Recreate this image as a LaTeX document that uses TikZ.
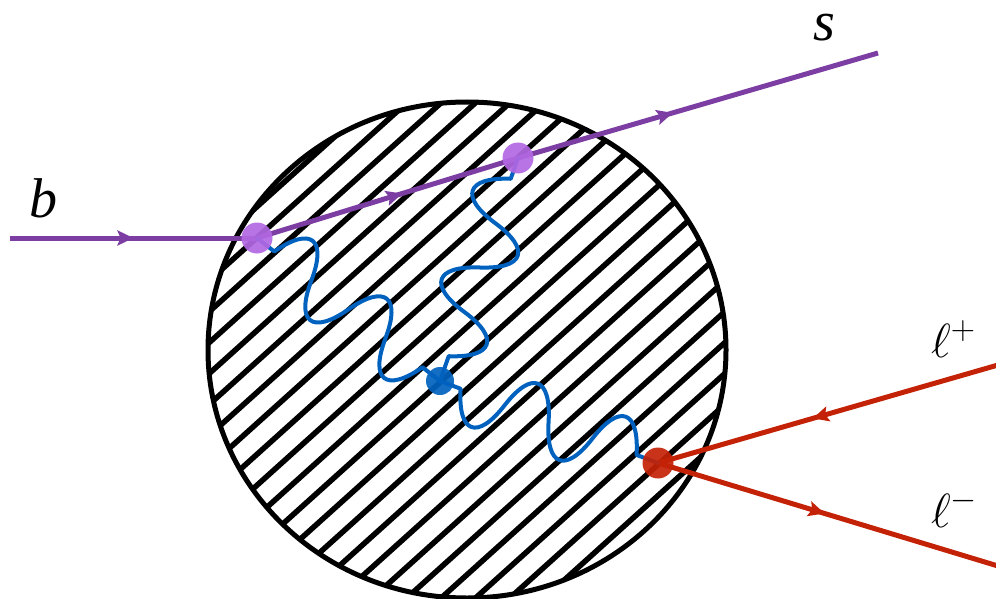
\RequirePackage{fix-cm}
\documentclass[tikz,border=0pt]{standalone}
\usepackage{fontspec}
\setmainfont{Liberation Serif}
\usetikzlibrary{decorations,decorations.markings,arrows.meta}
\definecolor{quark}{RGB}{125,62,163}
\definecolor{vtxq}{RGB}{178,104,226}
\definecolor{phot}{RGB}{0,98,190}
\definecolor{lep}{RGB}{196,34,6}
\pgfdeclaredecoration{wavy}{up}{
  \state{up}[width=\pgfdecorationsegmentlength, next state=down,
             switch if less than=\pgfdecorationsegmentlength to final]{
    \pgfpathcurveto{\pgfpoint{0.28\pgfdecorationsegmentlength}{1.333\pgfdecorationsegmentamplitude}}
                   {\pgfpoint{0.72\pgfdecorationsegmentlength}{1.333\pgfdecorationsegmentamplitude}}
                   {\pgfpoint{\pgfdecorationsegmentlength}{0pt}}
  }
  \state{down}[width=\pgfdecorationsegmentlength, next state=up,
               switch if less than=\pgfdecorationsegmentlength to final]{
    \pgfpathcurveto{\pgfpoint{0.28\pgfdecorationsegmentlength}{-1.333\pgfdecorationsegmentamplitude}}
                   {\pgfpoint{0.72\pgfdecorationsegmentlength}{-1.333\pgfdecorationsegmentamplitude}}
                   {\pgfpoint{\pgfdecorationsegmentlength}{0pt}}
  }
  \state{final}{\pgfpathlineto{\pgfpointdecoratedpathlast}}
}
\tikzset{
  fermion/.style={line width=5pt, postaction={decorate},
    decoration={markings, mark=at position #1 with {\arrow{Stealth[length=16pt,width=15pt,inset=3pt]}}}},
  photon/.style={draw=phot, line width=4pt, line join=round, line cap=round,
    decorate, decoration={wavy, amplitude=#1, segment length=47pt, pre length=22pt}},
  vtx/.style={circle, inner sep=0pt, minimum size=#1},
  hatchline/.style={line width=5.5pt, black},
  lblA/.style={inner sep=0pt, font=\fontsize{56}{60}\selectfont},
  lblB/.style={inner sep=0pt, font=\fontsize{48}{52}\selectfont},
}
\begin{document}
\begin{tikzpicture}[x=1pt, y=-1pt]
\useasboundingbox (0,0) rectangle (996,599);
% endpoints
\coordinate (bin) at (10,238);
\coordinate (send) at (878,53);
\coordinate (lp) at (998,365);
\coordinate (lm) at (998,566);
\coordinate (blob) at (467,350);
% hatched blob (underneath)
\begin{scope}
  \clip (blob) ellipse [x radius=259pt, y radius=248pt];
  \begin{scope}[shift={(blob)}, rotate=42]
    \foreach \i in {-13,...,13} \draw[hatchline] (-330,\i*23+6) -- (330,\i*23+6);
  \end{scope}
\end{scope}
\draw[line width=5pt] (blob) ellipse [x radius=259pt, y radius=248pt];
% vertices
\node[vtx=31pt] (v1) at (257,238) {};
\node[vtx=31pt] (v2) at (518,158) {};
\node[vtx=28pt] (vb) at (440,381) {};
\node[vtx=31pt] (vr) at (658,463) {};
% fermion lines
\draw[quark, fermion=0.5] (bin) -- (v1.center);
\draw[quark, fermion=0.556] (v1.center) -- (v2.center);
\draw[quark, fermion=0.43] (v2.center) -- (send);
\draw[lep, fermion=0.545] (lp) -- (vr.center);
\draw[lep, fermion=0.49] (vr.center) -- (lm);
% photons
\draw[photon=32pt] (v1.center) -- (vb.center);
\draw[photon=-32pt] (v2.center) -- (vb.center);
\draw[photon=-32pt] (vb.center) -- (vr.center);
% vertex dots
\fill[vtxq, fill opacity=0.92] (v1) circle[radius=15.5pt];
\fill[vtxq, fill opacity=0.92] (v2) circle[radius=15.5pt];
\fill[phot, fill opacity=0.92] (vb) circle[radius=14pt];
\fill[lep, fill opacity=0.92] (vr) circle[radius=15.5pt];
% labels
\node[lblA, anchor=base] (lb) at (43,217) {\textit{b}};
\node[lblA, anchor=base] (ls) at (824,41) {\textit{s}};
\node[lblB, anchor=base west] (llp) at (931,357) {$\ell^{+}$};
\node[lblB, anchor=base west] (llm) at (931,527) {$\ell^{-}$};
\end{tikzpicture}
\end{document}
